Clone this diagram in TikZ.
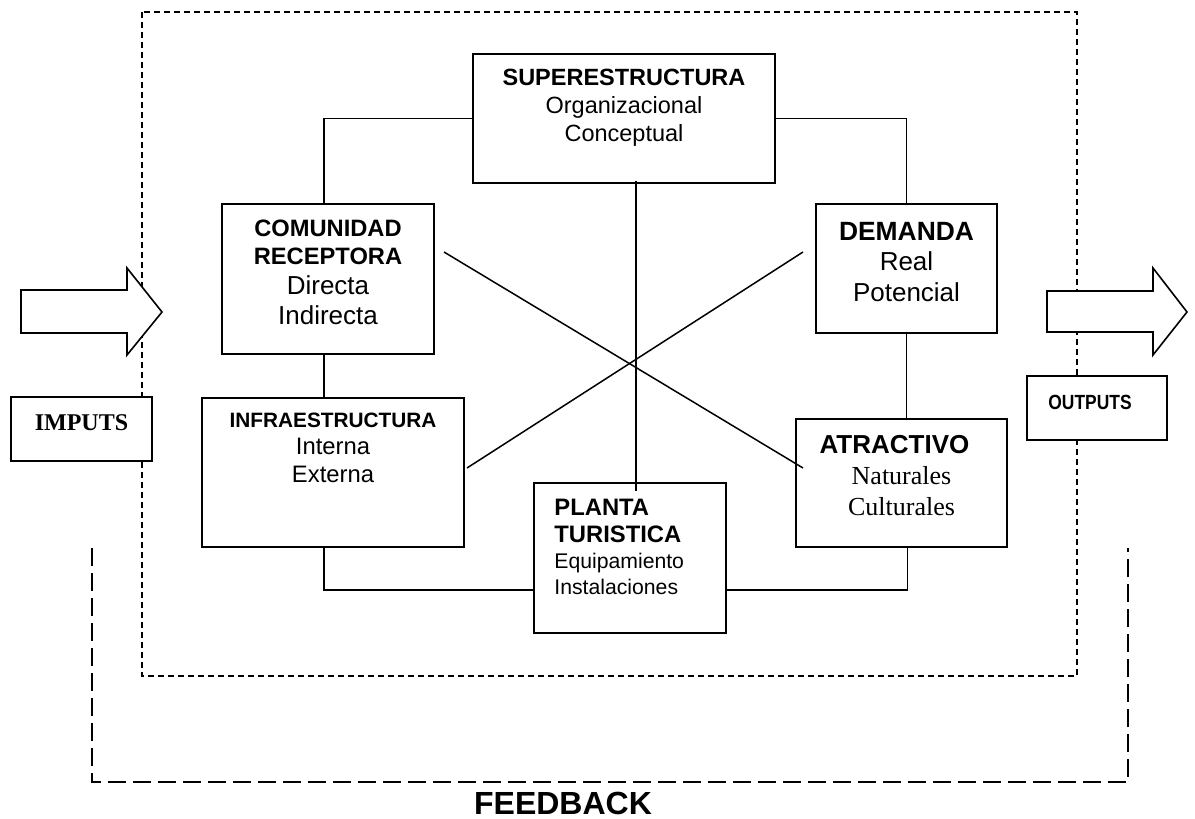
\documentclass[tikz,border=0pt]{standalone}
\usepackage{fontspec}
\setmainfont{Liberation Sans}
\newfontfamily\romana{Liberation Serif}
\usetikzlibrary{calc,positioning}
\newcommand\titulo[2]{{\normalfont\fontsize{#1}{#1}\selectfont\bfseries #2}}

\begin{document}
\begin{tikzpicture}[x=1pt,y=-1pt,
  caja/.style={draw,line width=1.6pt,fill=white,inner sep=0pt},
  texto/.style={inner sep=0pt,align=center,anchor=north},
  linea/.style={line width=1.5pt},
  marco/.style={line width=1.4pt,dash pattern=on 6pt off 4pt},
  retro/.style={line width=1.4pt,dash pattern=on 18pt off 7pt},
  flecha/.style={line width=1.6pt,fill=white,line join=miter}]
\useasboundingbox (0,0) rectangle (1195,819);

	\draw[marco] (142,12) rectangle (1077,676);% system frame
	\draw[retro] (92,548) -- (92,782) -- (1128,782) -- (1128,548);% feedback loop
      \node (feedback) at (563,803) {\titulo{32}{FEEDBACK}};

% in / out
\draw[flecha] (21,290) -- (127,290) -- (127,268) -- (162,312) -- (127,355) -- (127,333) -- (21,333) -- cycle;
\draw[flecha] (1047,291) -- (1153,291) -- (1153,268) -- (1187,312) -- (1153,355) -- (1153,332) -- (1047,332) -- cycle;
\node[caja,minimum width=141pt,minimum height=64pt,text depth=12pt,font=\romana\fontsize{24}{24}\selectfont\bfseries] (imputs) at (81.5,429) {IMPUTS};
\node[caja,minimum width=140pt,minimum height=64pt,text depth=12pt,font=\fontsize{20.5}{20.5}\selectfont\bfseries] (outputs) at (1097,408) {\scalebox{0.85}[1]{OUTPUTS}\kern14pt};

% boxes
\node[caja,minimum width=302pt,minimum height=129pt] (super) at (624,118.5) {};
\node[texto,font=\fontsize{23.5}{28}\selectfont] (super-t) at ([yshift=-16pt]super.north)
  {\titulo{23.5}{SUPERESTRUCTURA}\\ Organizacional\\ Conceptual};

\node[caja,minimum width=212pt,minimum height=150pt] (comun) at (328,279) {};
\node[texto,font=\fontsize{26}{30}\selectfont] (comun-t) at ([yshift=-16.5pt]comun.north)
  {\titulo{23.7}{COMUNIDAD}\\[-2pt] \titulo{23.7}{RECEPTORA}\\ Directa\\ Indirecta};

\node[caja,minimum width=181pt,minimum height=129pt] (demanda) at (906.5,268.5) {};
\node[texto,font=\fontsize{26}{30.5}\selectfont] (demanda-t) at ([yshift=-18.5pt]demanda.north)
  {\titulo{26.4}{DEMANDA}\\ Real\\ Potencial};

\node[caja,minimum width=262pt,minimum height=149pt] (infra) at (333,472.5) {};
\node[texto,font=\fontsize{23.8}{27.5}\selectfont] (infra-t) at ([yshift=-15.5pt]infra.north)
  {\titulo{20.8}{INFRAESTRUCTURA}\\ Interna\\ Externa};

\node[caja,minimum width=192pt,minimum height=150pt] (planta) at (630,558) {};
\node[texto,anchor=north west,align=left,font=\fontsize{21.2}{26}\selectfont] (planta-t) at ([xshift=21pt,yshift=-16.4pt]planta.north west)
  {\titulo{23.8}{PLANTA}\\[1pt] \titulo{23.8}{TURISTICA}\\ Equipamiento\\ Instalaciones};

\node[caja,minimum width=211pt,minimum height=128pt] (atract) at (901.5,483) {};
\node[texto,font=\romana\fontsize{26}{30.5}\selectfont] (atract-t) at ([yshift=-16.6pt]atract.north)
  {\titulo{26}{ATRACTIVO}\kern14pt\\[1pt] Naturales\\ Culturales};

% connectors
\draw[linea] ([xshift=-4pt]comun.north) |- (super.west);
\draw[linea] (super.east) -| (demanda.north);
\draw[linea] ([xshift=-4pt]comun.south) -- ([xshift=-4pt]comun.south |- infra.north);
\draw[linea] (demanda.south) -- (demanda.south |- atract.north);
\draw[linea] ([xshift=-9pt]infra.south) |- ([yshift=-32pt]planta.west);
\draw[linea] ([yshift=-32pt]planta.east) -| ([xshift=6pt]atract.south);
\draw[linea] ([xshift=12pt,yshift=3pt]super.south) -- ([xshift=6pt,yshift=-9pt]planta.north);% center line

\coordinate (diag1a) at (444,252);
\coordinate (diag1b) at (803,468);
\coordinate (diag2a) at (467,468);
\coordinate (diag2b) at (803,252);
\draw[linea] (diag1a) -- (diag1b);
\draw[linea] (diag2a) -- (diag2b);

\end{tikzpicture}
\end{document}
